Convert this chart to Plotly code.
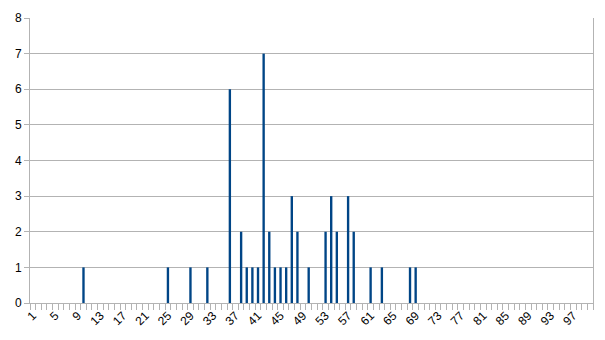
import plotly.graph_objects as go

categories = list(range(1, 101))
counts = {10: 1, 25: 1, 29: 1, 32: 1, 36: 6, 38: 2, 39: 1, 40: 1, 41: 1, 42: 7,
          43: 2, 44: 1, 45: 1, 46: 1, 47: 3, 48: 2, 50: 1, 53: 2, 54: 3, 55: 2,
          57: 3, 58: 2, 61: 1, 63: 1, 68: 1, 69: 1}
values = [counts.get(c, 0) for c in categories]
tick_labels = list(range(1, 101, 4))
y_ticks = list(range(0, 9))

fig = go.Figure(go.Bar(
    x=categories, y=values,
    marker=dict(color="#004586", line=dict(width=0)),
    width=0.42,
))

grid = "#b3b3b3"
fig.update_layout(
    width=605, height=340,
    margin=dict(l=30, r=11, t=14, b=37),
    paper_bgcolor="white", plot_bgcolor="white",
    showlegend=False,
    font=dict(family="Liberation Sans, Arial, sans-serif", size=12, color="#000000"),
    xaxis=dict(
        range=[0.5, 100.5],
        tickmode="array", tickvals=tick_labels, ticktext=[str(t) for t in tick_labels],
        tickangle=-45, ticks="", showgrid=False,
        showline=True, linecolor=grid, linewidth=1,
        tickfont=dict(size=12),
        minor=dict(tickmode="linear", tick0=0.5, dtick=1, ticks="outside",
                   ticklen=6, tickcolor=grid, showgrid=False),
    ),
    yaxis=dict(
        range=[0, 8], tickmode="array", tickvals=y_ticks,
        showgrid=True, gridcolor=grid, gridwidth=1,
        ticks="outside", ticklen=5, tickcolor=grid,
        showline=True, linecolor=grid, linewidth=1, mirror=True,
        zeroline=False, tickfont=dict(size=12),
    ),
)

fig.write_html("out.html")
